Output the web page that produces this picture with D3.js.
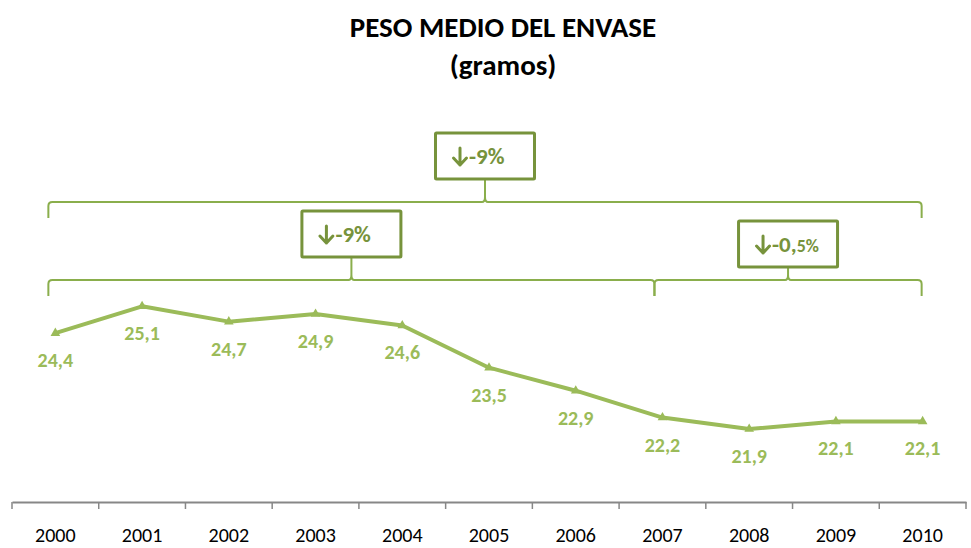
<!DOCTYPE html>
<html>
<head>
<meta charset="utf-8">
<script src="https://cdn.jsdelivr.net/npm/d3@7"></script>
<style>
body { margin: 0; background: #fff; }
svg { font-family: Carlito, Lato, "Open Sans", sans-serif; }
</style>
</head>
<body>
<script>
// chart data
var years = ['2000', '2001', '2002', '2003', '2004', '2005', '2006', '2007', '2008', '2009', '2010'];
var weights = [24.4, 25.1, 24.7, 24.9, 24.6, 23.5, 22.9, 22.2, 21.9, 22.1, 22.1];
var titleLines = ['PESO MEDIO DEL ENVASE', '(gramos)'];
// brace annotations: from year, to year, label, row (0 = top)
var braceFrom = ['2000', '2000', '2007'];
var braceTo = ['2010', '2007', '2010'];
var braceLabel = ['-9%', '-9%', '-0,5%'];
var braceRow = [0, 1, 1];

var W = 971, H = 548;
var lineColor = '#9BBB59', boxColor = '#77933C', braceColor = '#8AAE4C';

var svg = d3.select('body').append('svg')
	.attr('width', W)
	.attr('height', H);

// scales
var x = d3.scaleBand().domain(years).range([12, 966]);
var y = d3.scaleLinear().domain([20, 28]).range([502, 195]);
var cx = function(d) { return x(d) + x.bandwidth() / 2; };

// title
svg.selectAll('text.title')
	.data(titleLines)
	.enter().append('text')
	.attr('class', 'title')
	.text(function(d) { return d; })
	.attr('x', 503)
	.attr('y', function(d, i) { return 37 + i * 38; })
	.attr('text-anchor', 'middle')
	.attr('font-weight', 'bold')
	.attr('font-size', 29)
	.attr('fill', '#000');

// x axis
var axis = d3.axisBottom(x).tickSize(0).tickPadding(26);
var gx = svg.append('g')
	.attr('transform', 'translate(0,' + y(20) + ')')
	.call(axis);
gx.select('.domain').attr('stroke', '#878787').attr('stroke-width', 2);
gx.selectAll('.tick text')
	.attr('font-size', 20)
	.attr('font-family', 'Carlito, Lato, sans-serif')
	.attr('fill', '#000');
// tick marks between categories
var bounds = years.map(function(d) { return x(d); }).concat([x.range()[1]]);
gx.selectAll('line.sep')
	.data(bounds)
	.enter().append('line')
	.attr('class', 'sep')
	.attr('x1', function(d) { return d; })
	.attr('x2', function(d) { return d; })
	.attr('y1', 0)
	.attr('y2', 7)
	.attr('stroke', '#878787')
	.attr('stroke-width', 1.5);

// the series line
var line = d3.line()
	.x(function(d, i) { return cx(years[i]); })
	.y(function(d) { return y(d); });
svg.append('path')
	.datum(weights)
	.attr('d', line)
	.attr('fill', 'none')
	.attr('stroke', lineColor)
	.attr('stroke-width', 4)
	.attr('stroke-linejoin', 'round');

// triangle markers
svg.selectAll('path.mark')
	.data(weights)
	.enter().append('path')
	.attr('class', 'mark')
	.attr('d', d3.symbol().type(d3.symbolTriangle).size(40))
	.attr('transform', function(d, i) { return 'translate(' + cx(years[i]) + ',' + y(d) + ')'; })
	.attr('fill', lineColor);

// value labels below points
svg.selectAll('text.val')
	.data(weights)
	.enter().append('text')
	.attr('class', 'val')
	.text(function(d) { return String(d.toFixed(1)).replace('.', ','); })
	.attr('x', function(d, i) { return cx(years[i]); })
	.attr('y', function(d) { return y(d) + 34; })
	.attr('text-anchor', 'middle')
	.attr('font-weight', 'bold')
	.attr('font-size', 20)
	.attr('fill', lineColor);

// braces with boxed labels
var rowY = [202, 280];
braceLabel.forEach(function(lab, i) {
	var x1 = cx(braceFrom[i]) - 7,
		x2 = cx(braceTo[i]) - 1,
		yb = rowY[braceRow[i]],
		xm, r = 4;
	if (braceRow[i] == 1 && braceFrom[i] != years[0]) x1 = cx(braceFrom[i]) - 8;
	if (braceRow[i] == 1 && braceTo[i] != years[years.length - 1]) x2 = cx(braceTo[i]) - 8;
	xm = (x1 + x2) / 2;
	var p = 'M' + x1 + ',' + (yb + 16) +
		' L' + x1 + ',' + (yb + r) +
		' Q' + x1 + ',' + yb + ' ' + (x1 + r) + ',' + yb +
		' L' + (xm - 3) + ',' + yb +
		' Q' + xm + ',' + yb + ' ' + xm + ',' + (yb - 5) +
		' Q' + xm + ',' + yb + ' ' + (xm + 3) + ',' + yb +
		' L' + (x2 - r) + ',' + yb +
		' Q' + x2 + ',' + yb + ' ' + x2 + ',' + (yb + r) +
		' L' + x2 + ',' + (yb + 16);
	svg.append('path')
		.attr('d', p)
		.attr('fill', 'none')
		.attr('stroke', braceColor)
		.attr('stroke-width', 2);

	var bw = 99, bh = 46, by = yb - 69;
	if (lab == '-0,5%') by = yb - 59;
	svg.append('line')
		.attr('x1', xm).attr('x2', xm)
		.attr('y1', by + bh).attr('y2', yb - 5)
		.attr('stroke', braceColor)
		.attr('stroke-width', 2);
	svg.append('rect')
		.attr('x', xm - bw / 2)
		.attr('y', by)
		.attr('width', bw)
		.attr('height', bh)
		.attr('rx', 1)
		.attr('fill', '#fff')
		.attr('stroke', boxColor)
		.attr('stroke-width', 3);

	// down arrow
	var ax = xm - 25, at = by + 15, ab = by + 32;
	svg.append('path')
		.attr('d', 'M' + ax + ',' + at + ' L' + ax + ',' + ab +
			' M' + (ax - 6.5) + ',' + (ab - 7) + ' L' + ax + ',' + ab + ' L' + (ax + 6.5) + ',' + (ab - 7))
		.attr('fill', 'none')
		.attr('stroke', boxColor)
		.attr('stroke-width', 3)
		.attr('stroke-linecap', 'round')
		.attr('stroke-linejoin', 'round');

	var t = svg.append('text')
		.attr('x', xm - 16)
		.attr('y', by + bh / 2 + 8)
		.attr('font-weight', 'bold')
		.attr('font-size', 23)
		.attr('fill', boxColor);
	if (lab == '-0,5%') {
		t.append('tspan').text('-0,');
		t.append('tspan').text('5%').attr('font-size', 18);
	} else {
		t.append('tspan').text(lab);
	}
});
</script>
</body>
</html>
